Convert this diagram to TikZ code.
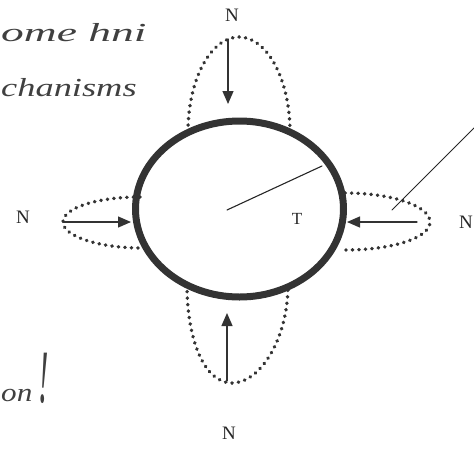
\documentclass[tikz,border=0pt]{standalone}
\usepackage{fontspec}
\setmainfont{Liberation Serif}
\usetikzlibrary{arrows.meta}
\tikzset{
  dotloop/.style={line width=3.6pt, dash pattern=on 0.3pt off 6.2pt, black!80},
  force/.style={line width=1.3pt, black!80, -{Triangle[length=13pt,width=11pt]}},
  hand/.style={font=\fontsize{26}{28}\selectfont\itshape, black!75, anchor=west, inner sep=0pt},
  lbl/.style={inner sep=0pt, black!85}
}
\begin{document}
\begin{tikzpicture}[x=1pt, y=-1pt, line join=round, line cap=round, font=\fontsize{19}{21}\selectfont]
\useasboundingbox (0,0) rectangle (474,448);
%pressure loops
\draw[dotloop] (290,132) .. controls (290,79.5) and (267.2,37) .. (239,37) .. controls (210.8,37) and (188,79.5) .. (188,132);
\draw[dotloop] (187,285) .. controls (187,339) and (204,383) .. (232,383) .. controls (260,383) and (288,339) .. (288,285);
\draw[dotloop] (140,197) .. controls (97,197) and (63,208) .. (63,222) .. controls (63,236) and (98,248) .. (142,248);
\draw[dotloop] (345,193) .. controls (392,193) and (430,206) .. (430,222) .. controls (430,238) and (392,250) .. (345,250);
%ring
\draw[line width=7pt, black!80] (239.5,209) ellipse [x radius=104, y radius=88];
\coordinate (c) at (227,210);
\coordinate (rim) at (322,166);
\draw[line width=1.1pt, black!85] (c) -- (rim);
\node[lbl, font=\fontsize{17}{19}\selectfont] (t) at (297,219) {T};
%forces
\coordinate (ts) at (228,39); \coordinate (te) at (228,104);
\coordinate (bs) at (227,381); \coordinate (be) at (227,313);
\coordinate (ls) at (63,222); \coordinate (le) at (131,222);
\coordinate (rs) at (417,222); \coordinate (re) at (347,222);
\draw[force] (ts) -- (te);
\draw[force] (bs) -- (be);
\draw[force] (ls) -- (le);
\draw[force] (rs) -- (re);
\node[lbl] (nt) at (232,15) {N};
\node[lbl] (nb) at (229,433) {N};
\node[lbl] (nl) at (23,217) {N};
\node[lbl] (nr) at (466,222) {N};
%leader
\coordinate (la) at (392,210);
\coordinate (lb) at (492,110);
\draw[line width=1pt, black!85] (la) -- (lb);
%notes
\node[hand] (h1) at (1,33) {\scalebox{1.75}[1]{ome hni}};
\node[hand] (h2) at (1,88) {\scalebox{1.4}[1]{chanisms}};
\node[hand] (h3) at (1,378) {\scalebox{1.2}[1]{on\kern5pt\raisebox{-1pt}{\scalebox{1}[2.9]{!}}}};
\end{tikzpicture}
\end{document}
